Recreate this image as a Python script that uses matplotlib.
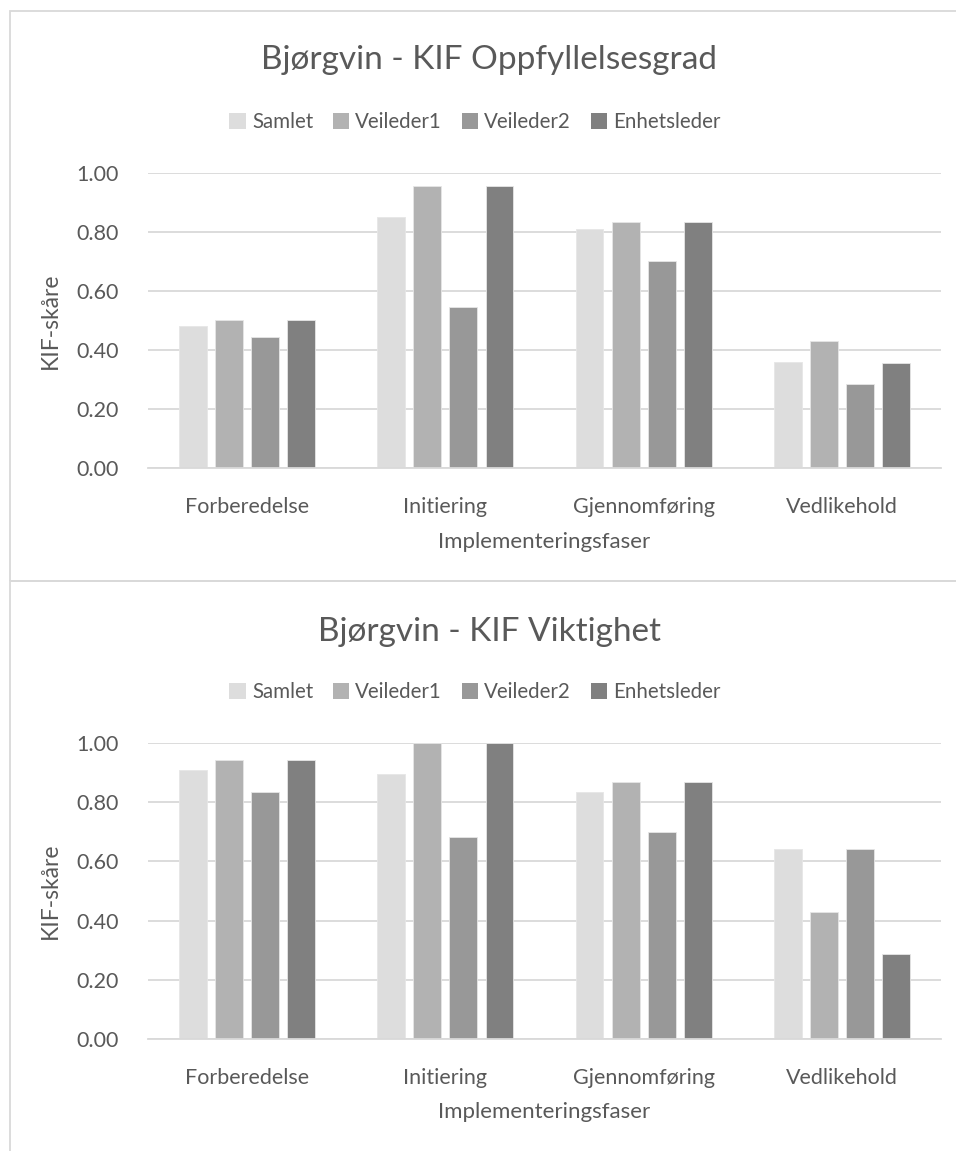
import matplotlib
matplotlib.use("Agg")
import matplotlib.pyplot as plt
from matplotlib.patches import Rectangle, Patch
import numpy as np

plt.rcParams['font.family'] = ['Lato', 'DejaVu Sans']

categories = ["Forberedelse", "Initiering", "Gjennomføring", "Vedlikehold"]
series = ["Samlet", "Veileder1", "Veileder2", "Enhetsleder"]
colors = ["#dddddd", "#b2b2b2", "#989898", "#808080"]

oppfyllelse_samlet = [0.48, 0.85, 0.81, 0.36]
oppfyllelse_veileder1 = [0.50, 0.955, 0.833, 0.429]
oppfyllelse_veileder2 = [0.444, 0.545, 0.70, 0.286]
oppfyllelse_enhetsleder = [0.50, 0.955, 0.833, 0.357]

viktighet_samlet = [0.91, 0.894, 0.833, 0.643]
viktighet_veileder1 = [0.944, 1.0, 0.867, 0.429]
viktighet_veileder2 = [0.833, 0.682, 0.70, 0.643]
viktighet_enhetsleder = [0.944, 1.0, 0.867, 0.286]

yticks = [0.0, 0.2, 0.4, 0.6, 0.8, 1.0]
ytick_labels = ["0.00", "0.20", "0.40", "0.60", "0.80", "1.00"]

W, H = 956, 1151
fig = plt.figure(figsize=(W / 100, H / 100), dpi=100)
TXT = "#595959"
GRID = "#d9d9d9"

def fx(px):
    return px / W

def fy(py):
    return 1 - py / H

# chart frames
fig.patches.append(Rectangle((fx(10), fy(581)), fx(960) - fx(10), fy(11) - fy(581),
                             transform=fig.transFigure, fill=False, edgecolor=GRID, lw=1.3))
fig.patches.append(Rectangle((fx(10), fy(1160)), fx(960) - fx(10), fy(581) - fy(1160),
                             transform=fig.transFigure, fill=False, edgecolor=GRID, lw=1.3))

AX_L, AX_R = 148, 941

def draw(top_px, bottom_px, title, title_y, legend_y, xl_y, data):
    ax = fig.add_axes([fx(AX_L), fy(bottom_px), fx(AX_R) - fx(AX_L), fy(top_px) - fy(bottom_px)])
    x = np.arange(len(categories))
    w = 0.141
    step = 0.182
    for i, (name, vals) in enumerate(zip(series, data)):
        ax.bar(x + (i - 1.5) * step, vals, width=w, color=colors[i], label=name, zorder=3,
               edgecolor="#e6e6e6", linewidth=0.6)
    ax.set_xlim(-0.5, len(categories) - 0.5)
    ax.set_ylim(0, 1.0)
    ax.set_yticks(yticks)
    ax.set_yticklabels(ytick_labels)
    ax.set_xticks(x)
    ax.set_xticklabels(categories)
    ax.grid(axis='y', color=GRID, lw=1.3, zorder=0)
    for s in ["top", "right", "left"]:
        ax.spines[s].set_visible(False)
    ax.spines["bottom"].set_color(GRID)
    ax.spines["bottom"].set_linewidth(1.3)
    ax.spines["bottom"].set_zorder(4)
    ax.tick_params(axis='both', length=0, labelsize=15.5, colors=TXT)
    ax.tick_params(axis='y', pad=21)
    ax.tick_params(axis='x', pad=21)
    ax.set_ylabel("KIF-skåre", fontsize=16.5, color=TXT)
    ax.yaxis.set_label_coords((61 - AX_L) / (AX_R - AX_L), 0.5)
    fig.text(fx(544), fy(xl_y), "Implementeringsfaser", ha='center', va='center', fontsize=16, color=TXT)
    fig.text(fx(489), fy(title_y), title, ha='center', va='center', fontsize=24, color=TXT)
    handles = [Patch(facecolor=c, edgecolor='none') for c in colors]
    fig.legend(handles, series, loc='center', bbox_to_anchor=(fx(475), fy(legend_y)),
               ncol=4, frameon=False, fontsize=14.8, handlelength=0.8, handleheight=0.8,
               handletextpad=0.3, columnspacing=0.95, labelcolor=TXT)
    return ax

draw(173, 468, "Bjørgvin - KIF Oppfyllelsesgrad", 60, 122, 542,
     [oppfyllelse_samlet, oppfyllelse_veileder1, oppfyllelse_veileder2, oppfyllelse_enhetsleder])
draw(743, 1039, "Bjørgvin - KIF Viktighet", 632, 692, 1112,
     [viktighet_samlet, viktighet_veileder1, viktighet_veileder2, viktighet_enhetsleder])

fig.savefig("out.png", dpi=100, facecolor="white")
